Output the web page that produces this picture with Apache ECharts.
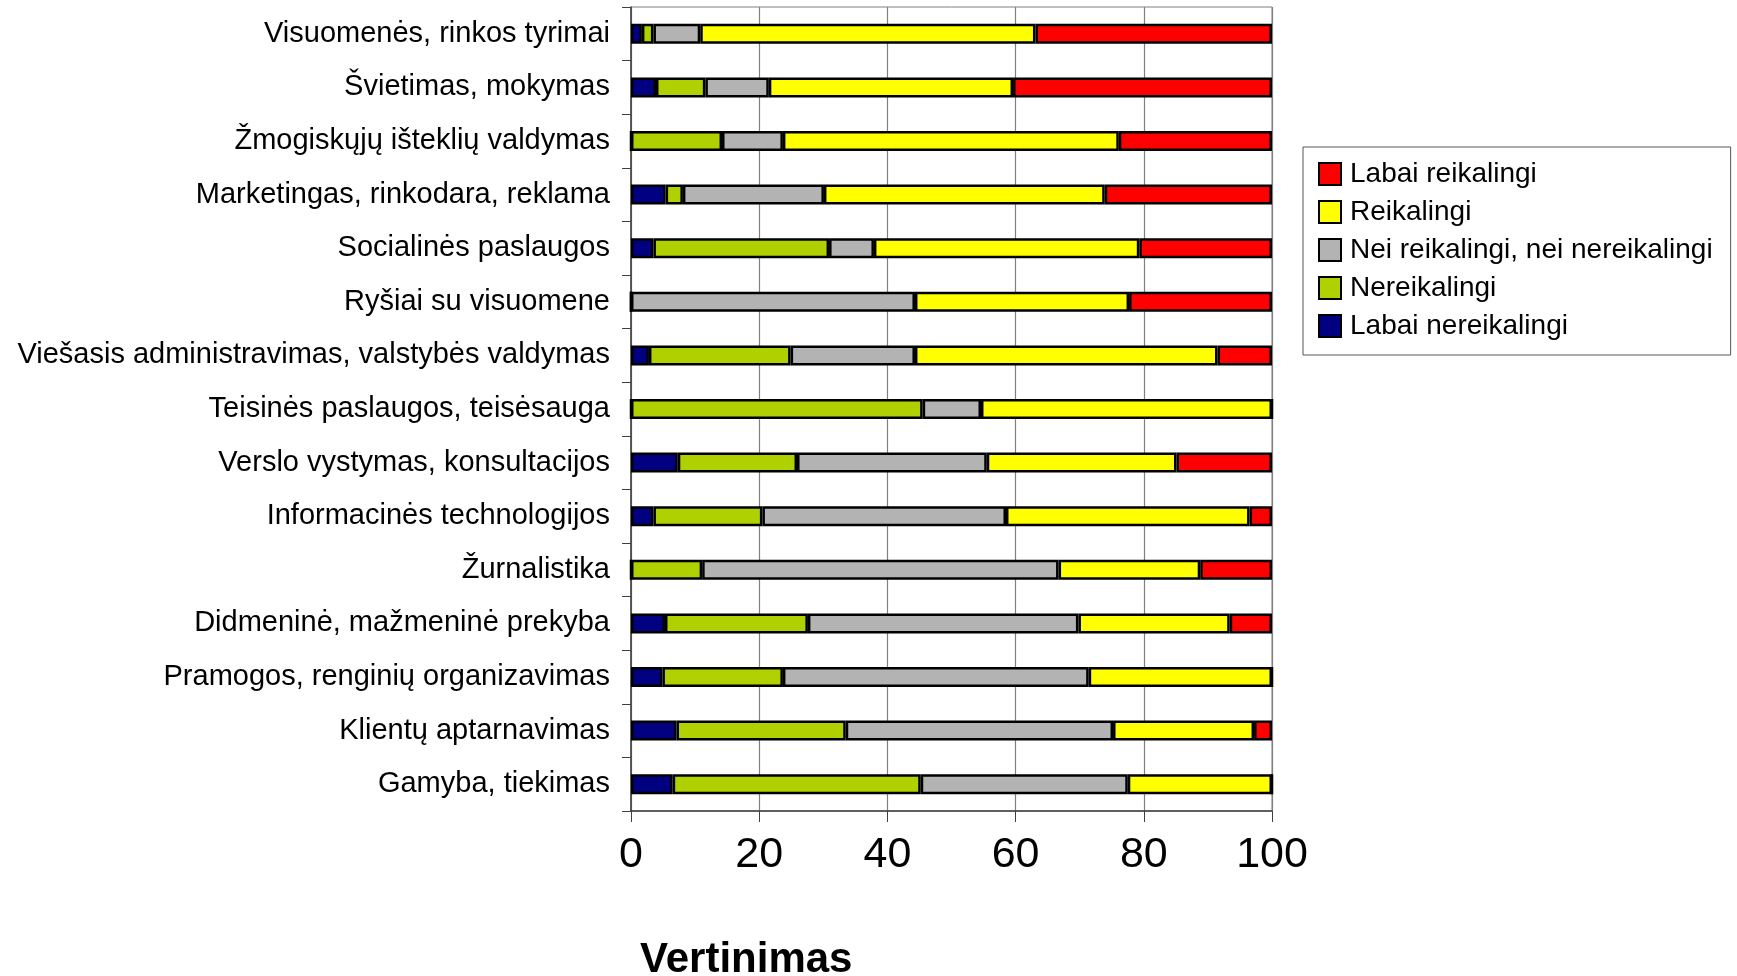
<!DOCTYPE html>
<html>
<head>
<meta charset="utf-8">
<script src="https://cdn.jsdelivr.net/npm/echarts@6/dist/echarts.min.js"></script>
<style>
html,body{margin:0;padding:0;background:#fff;}
#chart{width:1737px;height:976px;}
</style>
</head>
<body>
<div id="chart"></div>
<script>
const categories = [
  "Visuomenės, rinkos tyrimai",
  "Švietimas, mokymas",
  "Žmogiskųjų išteklių valdymas",
  "Marketingas, rinkodara, reklama",
  "Socialinės paslaugos",
  "Ryšiai su visuomene",
  "Viešasis administravimas, valstybės valdymas",
  "Teisinės paslaugos, teisėsauga",
  "Verslo vystymas, konsultacijos",
  "Informacinės technologijos",
  "Žurnalistika",
  "Didmeninė, mažmeninė prekyba",
  "Pramogos, renginių organizavimas",
  "Klientų aptarnavimas",
  "Gamyba, tiekimas"
];
const labaiNereikalingi = [1.7, 3.9, 0, 5.4, 3.5, 0, 2.8, 0, 7.3, 3.5, 0, 5.3, 4.9, 7.1, 6.5];
const nereikalingi      = [1.8, 7.7, 14.2, 2.7, 27.4, 0, 22.1, 45.5, 18.6, 17.0, 11.1, 22.3, 18.8, 26.4, 38.7];
const neiNei            = [7.3, 9.9, 9.5, 22.0, 7.0, 44.3, 19.4, 9.1, 29.6, 38.0, 55.6, 42.2, 47.7, 41.7, 32.3];
const reikalingi        = [52.3, 38.1, 52.4, 43.8, 41.4, 33.4, 47.2, 45.4, 29.6, 38.0, 22.1, 23.6, 28.6, 22.0, 22.5];
const labaiReikalingi   = [36.9, 40.4, 23.9, 26.1, 20.7, 22.3, 8.5, 0, 14.9, 3.5, 11.2, 6.6, 0, 2.8, 0];
const seriesNames = ["Labai nereikalingi", "Nereikalingi", "Nei reikalingi, nei nereikalingi", "Reikalingi", "Labai reikalingi"];
const seriesColors = ["#000080", "#B0D000", "#B3B3B3", "#FFFF00", "#FF0000"];
const seriesValues = [labaiNereikalingi, nereikalingi, neiNei, reikalingi, labaiReikalingi];
const legendOrder = ["Labai reikalingi", "Reikalingi", "Nei reikalingi, nei nereikalingi", "Nereikalingi", "Labai nereikalingi"];
const xTicks = [0, 20, 40, 60, 80, 100];

const FONT = "'Liberation Sans', Arial, sans-serif";
const chart = echarts.init(document.getElementById('chart'), null, {renderer: 'canvas'});
chart.setOption({
  animation: false,
  backgroundColor: '#fff',
  title: {
    text: 'Vertinimas',
    left: 640, top: 939, padding: 0,
    textStyle: {fontFamily: FONT, fontSize: 42, fontWeight: 'bold', color: '#000'}
  },
  legend: {
    orient: 'vertical',
    left: 1303, top: 147,
    padding: [13, 18, 15, 15],
    itemGap: 10,
    itemWidth: 22, itemHeight: 22,
    icon: 'rect',
    borderColor: '#555', borderWidth: 1,
    backgroundColor: '#fff',
    data: legendOrder,
    itemStyle: {borderColor: '#000', borderWidth: 2},
    textStyle: {fontFamily: FONT, fontSize: 28, lineHeight: 28, color: '#000', padding: [0, 0, 0, 4]}
  },
  grid: {
    left: 631, right: 465, top: 7, bottom: 165,
    show: true, borderColor: '#808080', borderWidth: 1, backgroundColor: '#fff'
  },
  xAxis: {
    type: 'value', min: xTicks[0], max: xTicks[xTicks.length - 1], interval: 20,
    axisLine: {show: true, lineStyle: {color: '#404040', width: 1.5}},
    axisTick: {show: true, length: 11, lineStyle: {color: '#404040', width: 1}},
    axisLabel: {margin: 23, fontFamily: FONT, fontSize: 43, color: '#000'},
    splitLine: {show: true, lineStyle: {color: '#808080', width: 1.2}}
  },
  yAxis: {
    type: 'category', data: categories, inverse: true,
    axisLine: {show: true, lineStyle: {color: '#404040', width: 1.5}},
    axisTick: {show: true, length: 9, lineStyle: {color: '#404040', width: 1}},
    axisLabel: {margin: 21, fontFamily: FONT, fontSize: 29, color: '#000'},
    splitLine: {show: false}
  },
  series: seriesNames.map((n, i) => ({
    name: n, type: 'bar', stack: 'total', barWidth: 20,
    data: seriesValues[i],
    itemStyle: {color: seriesColors[i], borderColor: '#000', borderWidth: 2.5}
  }))
});
</script>
</body>
</html>
